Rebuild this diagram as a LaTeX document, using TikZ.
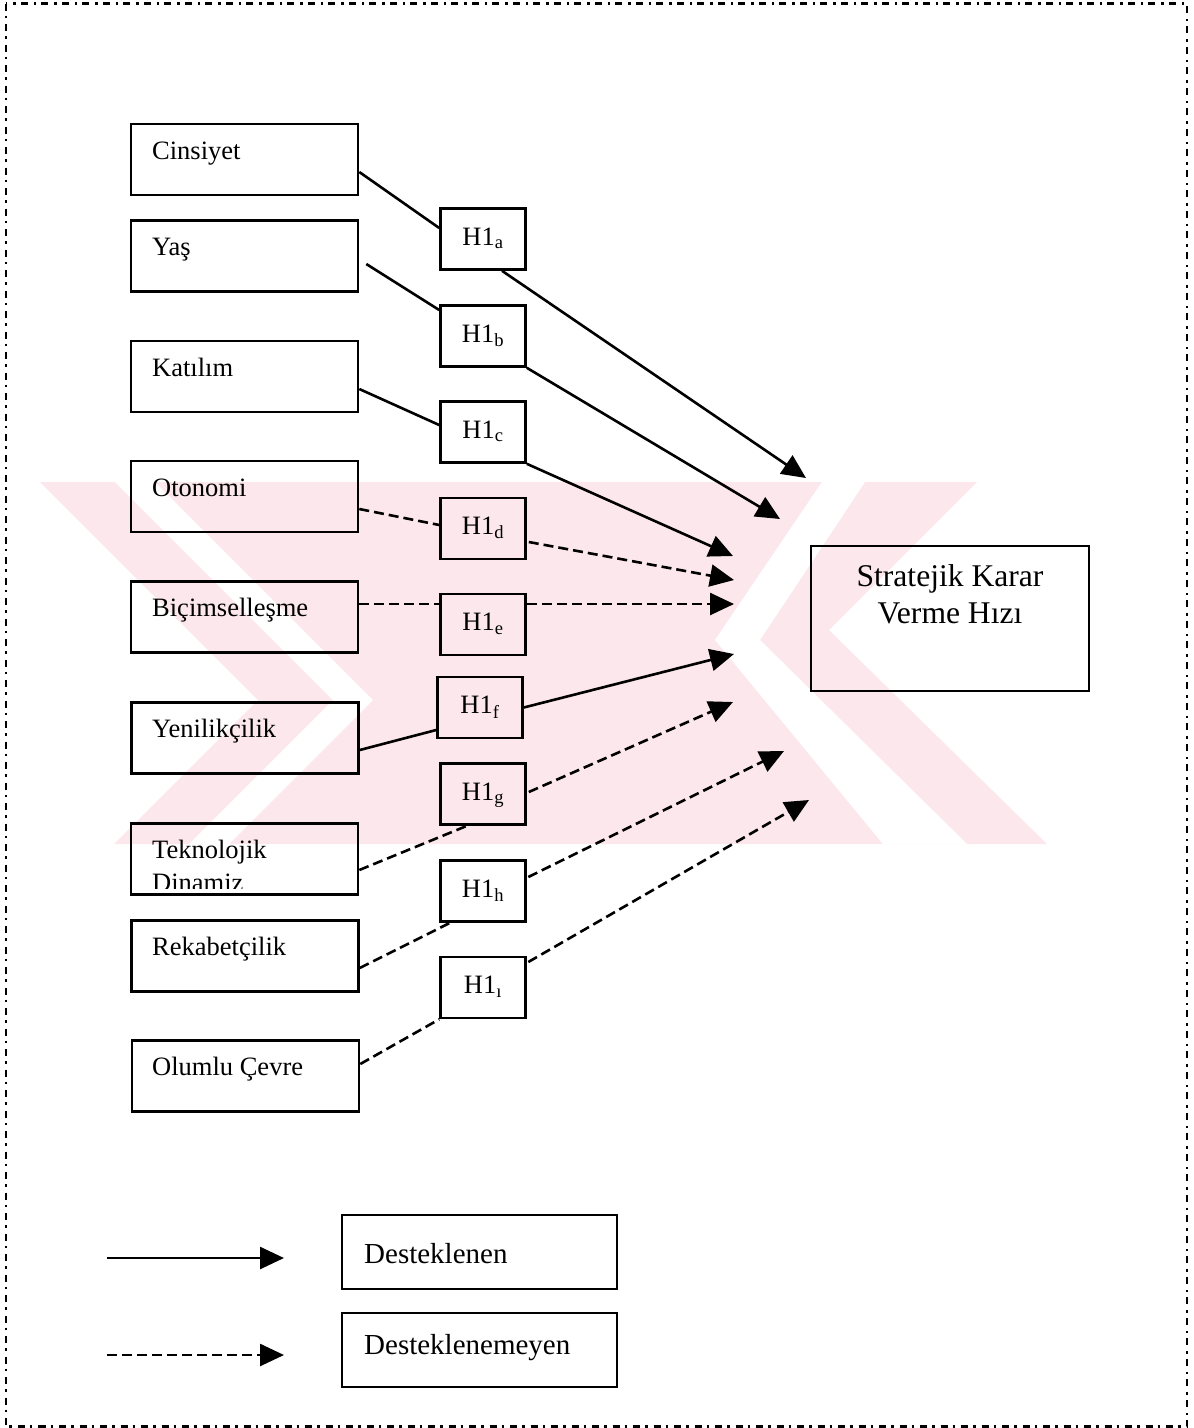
\documentclass[tikz,border=0pt]{standalone}
\usepackage{fontspec}
\setmainfont{Liberation Serif}
\usetikzlibrary{arrows.meta,calc}

\definecolor{wmpink}{RGB}{252,232,236}

\tikzset{
  box/.style={draw, line width=2.6pt, rectangle, inner sep=0pt},
  lbox/.style={box, minimum width=227pt, minimum height=71pt},
  hbox/.style={box, minimum width=85pt, minimum height=61pt,
    text height=18pt, text depth=6pt,
    font=\fontsize{26.5}{30}\selectfont},
  ltext/.style={anchor=base west, inner sep=0pt, font=\fontsize{26.5}{30}\selectfont},
  rtext/.style={anchor=base, inner sep=0pt, font=\fontsize{31.6}{37}\selectfont},
  gtext/.style={anchor=base west, inner sep=0pt, font=\fontsize{29}{34}\selectfont},
  link/.style={line width=2.6pt},
  dlink/.style={line width=2.6pt, dash pattern=on 10pt off 5pt},
  tip/.style={-{Triangle[length=24pt,width=22pt]}},
  frame/.style={line width=2.6pt, dash pattern=on 7pt off 5pt on 2.5pt off 6pt},
}

\begin{document}
\begin{tikzpicture}[x=1pt,y=-1pt]
\useasboundingbox (0,0) rectangle (1194,1428);

% faint background emblem: a right-pointing chevron on the left, a notch on the right
\fill[wmpink] (40,482) -- (977,482) -- (829,630) -- (1047,844) -- (114,844) -- (258,700) -- cycle;
\fill[white] (115,482) -- (155,482) -- (373,700) -- (229,844) -- (189,844) -- (333,700) -- cycle;
\fill[white] (822,482) -- (865,482) -- (760,640) -- (967,844) -- (883,844) -- (715,640) -- cycle;

% outer frame
\draw[frame] (6,3.5) rectangle (1187,1426.5);

% factor boxes
\node[lbox] (cins) at (244.5,159.5) {};
\node[lbox] (yas)  at (244.5,256)   {};
\node[lbox] (kat)  at (244.5,376.5) {};
\node[lbox] (oto)  at (244.5,496.5) {};
\node[lbox] (bic)  at (244.5,617)   {};
\node[lbox] (yen)  at (245,738)     {};
\node[lbox] (tek)  at (244.5,859)   {};
\node[lbox] (rek)  at (245,956)     {};
\node[lbox] (olu)  at (245.5,1076)  {};

\node[ltext] (cinsT) at (152,159)  {Cinsiyet};
\node[ltext] (yasT)  at (152,255)  {Yaş};
\node[ltext] (katT)  at (152,376)  {Katılım};
\node[ltext] (otoT)  at (152,496)  {Otonomi};
\node[ltext] (bicT)  at (152,616)  {Biçimselleşme};
\node[ltext] (yenT)  at (152,737)  {Yenilikçilik};
\node[ltext] (rekT)  at (152,955)  {Rekabetçilik};
\node[ltext] (oluT)  at (152,1075) {Olumlu Çevre};
\begin{scope}
  \clip (131,823) rectangle (358,888);
  \node[ltext] (tekT)  at (152,858) {Teknolojik};
  \node[ltext] (tekT2) at (152,891) {Dinamiz};
\end{scope}

% hypothesis boxes
\node[hbox] (ha) at (483,239)   {H1\textsubscript{a}};
\node[hbox] (hb) at (483,336)   {H1\textsubscript{b}};
\node[hbox] (hc) at (483,432)   {H1\textsubscript{c}};
\node[hbox] (hd) at (483,528.5) {H1\textsubscript{d}};
\node[hbox] (he) at (483,624.5) {H1\textsubscript{e}};
\node[hbox] (hf) at (480,707.5) {H1\textsubscript{f}};
\node[hbox] (hg) at (483,794)   {H1\textsubscript{g}};
\node[hbox] (hh) at (483,891)   {H1\textsubscript{h}};
\node[hbox] (hi) at (483,987.5) {H1\textsubscript{ı}};

% outcome box
\node[box, minimum width=278pt, minimum height=145pt] (skvh) at (950,618.5) {};
\node[rtext] (skvhT1) at (950,586) {Stratejik Karar};
\node[rtext] (skvhT2) at (950,623) {Verme Hızı};

% arrow tips in front of the outcome box
\coordinate (ta) at (806,478);
\coordinate (tb) at (780,519);
\coordinate (tc) at (733,556);
\coordinate (td) at (734,580);
\coordinate (te) at (734,604);
\coordinate (tf) at (734,654);
\coordinate (tg) at (733,702);
\coordinate (th) at (784,751);
\coordinate (ti) at (809,800);

% factor -> hypothesis
\draw[link]  ($(cins.east)+(0,12.5)$) -- ($(ha.west)+(0,-11)$);
\draw[link]  ($(yas.east)+(7,8)$)     -- ($(hb.west)+(0,-26)$);
\draw[link]  ($(kat.east)+(0,12.5)$)  -- ($(hc.west)+(0,-7)$);
\draw[dlink] ($(oto.east)+(0,12.5)$)  -- ($(hd.west)+(0,-3.5)$);
\draw[dlink] ($(bic.east)+(0,-13)$)   -- ($(he.west)+(0,-20.5)$);
\draw[link]  ($(yen.east)+(0,12)$)    -- ($(hf.west)+(0,22.5)$);
\draw[dlink] ($(tek.east)+(0,11)$)    -- ($(hg.south)+(-16,0)$);
\draw[dlink] ($(rek.east)+(0,12)$)    -- ($(hh.south)+(-33,0)$);
\draw[dlink] ($(olu.east)+(0,-12)$)   -- (hi.south west);

% hypothesis -> outcome
\draw[link,tip]  ($(ha.south)+(19,0)$)    -- (ta);
\draw[link,tip]  (hb.south east)          -- (tb);
\draw[link,tip]  (hc.south east)          -- (tc);
\draw[dlink,tip] ($(hd.east)+(2,13.5)$)   -- (td);
\draw[dlink,tip] ($(he.east)+(0,-20.5)$)  -- (te);
\draw[link,tip]  (hf.east)                -- (tf);
\draw[dlink,tip] ($(hg.east)+(2,-2)$)     -- (tg);
\draw[dlink,tip] ($(hh.east)+(1.5,-14)$)  -- (th);
\draw[dlink,tip] ($(hi.east)+(1.5,-25.5)$) -- (ti);

% legend
\coordinate (ls1) at (107,1258);
\coordinate (le1) at (284,1258);
\coordinate (ls2) at (107,1355);
\coordinate (le2) at (284,1355);
\draw[link,tip]  (ls1) -- (le1);
\draw[dlink,tip] (ls2) -- (le2);
\node[box, minimum width=275pt, minimum height=74pt] (leg1) at (479.5,1252) {};
\node[box, minimum width=275pt, minimum height=74pt] (leg2) at (479.5,1350) {};
\node[gtext] (leg1T) at (364,1263) {Desteklenen};
\node[gtext] (leg2T) at (364,1354) {Desteklenemeyen};
\end{tikzpicture}
\end{document}
